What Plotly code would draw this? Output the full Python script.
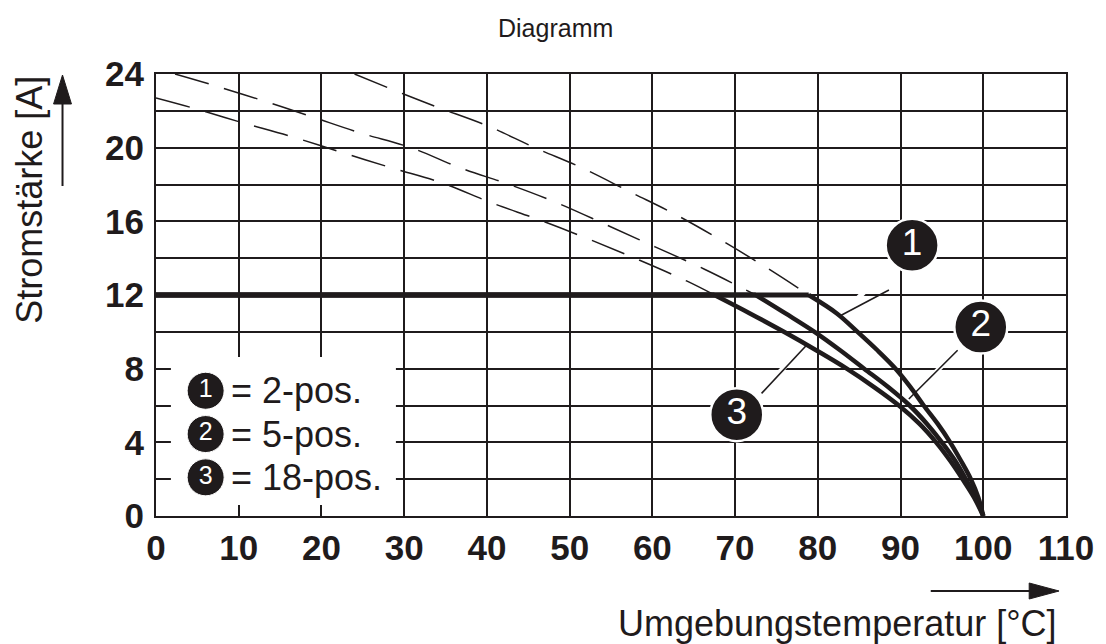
import plotly.graph_objects as go

# ---------------- data ----------------
temp_ticks = [0, 10, 20, 30, 40, 50, 60, 70, 80, 90, 100, 110]
current_ticks = [0, 4, 8, 12, 16, 20, 24]
rated_current = 12

series_names = ["1", "2", "3"]
legend_labels = ["= 2-pos.", "= 5-pos.", "= 18-pos."]

# dashed (extrapolated) parts of the derating curves
c1_dash_t = [24.0, 30.0, 34.0, 40.0, 45.8, 51.5, 57.3, 63.1, 68.6, 74.1, 78.9]
c1_dash_i = [24.0, 22.9, 22.2, 21.2, 20.0, 18.9, 17.6, 16.3, 14.9, 13.4, 12.0]
c2_dash_t = [2.3, 6.5, 12.6, 18.7, 24.7, 30.8, 36.8, 42.7, 48.5, 54.5, 60.4, 66.3, 72.5]
c2_dash_i = [24.0, 23.45, 22.6, 21.7, 20.8, 20.0, 18.9, 18.0, 17.0, 15.8, 14.6, 13.4, 12.0]
c3_dash_t = [0.0, 4.1, 10.1, 16.4, 22.4, 28.5, 34.5, 40.6, 46.5, 52.5, 58.4, 64.2, 67.5]
c3_dash_i = [22.7, 22.2, 21.4, 20.6, 19.75, 18.9, 18.1, 17.0, 16.05, 15.0, 13.9, 12.75, 12.0]

# solid (valid) derating parts
c1_t = [78.9, 82.3, 84.8, 87.2, 89.4, 91.2, 92.8, 94.5, 96.0, 97.3, 98.5, 99.4, 100.0]
c1_i = [12.0, 11.0, 10.0, 9.0, 8.0, 7.0, 6.0, 5.0, 4.0, 3.0, 2.0, 1.0, 0.0]
c2_t = [72.5, 76.1, 79.6, 82.7, 85.6, 88.5, 91.1, 93.2, 95.0, 96.6, 97.9, 99.1, 100.0]
c2_i = [12.0, 11.0, 10.0, 9.0, 8.0, 7.0, 6.0, 5.0, 4.0, 3.0, 2.0, 1.0, 0.0]
c3_t = [67.5, 71.8, 75.9, 79.8, 83.5, 86.8, 89.8, 92.3, 94.3, 96.0, 97.5, 98.9, 100.0]
c3_i = [12.0, 11.0, 10.0, 9.0, 8.0, 7.0, 6.0, 5.0, 4.0, 3.0, 2.0, 1.0, 0.0]

# callout bubbles and leader lines (data coordinates)
callout_t = [91.4, 99.7, 70.2]
callout_i = [14.7, 10.26, 5.5]
leader_start_t = [88.6, 96.9, 73.2]
leader_start_i = [12.27, 9.0, 6.66]
leader_end_t = [82.6, 91.0, 78.8]
leader_end_i = [10.85, 6.35, 9.35]

# legend bubbles
legend_t = [6.0, 6.0, 6.0]
legend_i = [6.8, 4.45, 2.1]
legend_text_t = 8.8

# ---------------- styling ----------------
INK = "#1f1b1c"
FONT = "Liberation Sans, Arial, Helvetica, sans-serif"
OFF = 8  # page offset of the figure inside the browser window
W, H = 1106 - OFF, 644 - OFF
# plot area in window pixels: x 156..1071, y 74..516
L, R, T, B = 156 - OFF, 1106 - 1071, 74 - OFF, 644 - 516
PW, PH = W - L - R, H - T - B


def px(xs, ys):
    """window pixel -> paper coordinates"""
    return (xs - 156) / PW, (516 - ys) / PH


fig = go.Figure()

# white halos of the leader lines
for k in range(3):
    fig.add_trace(go.Scatter(
        x=[callout_t[k], leader_end_t[k]], y=[callout_i[k], leader_end_i[k]],
        mode="lines", line=dict(color="white", width=5), hoverinfo="skip"))

# dashed curves
for tt, ii in [(c1_dash_t, c1_dash_i), (c2_dash_t, c2_dash_i), (c3_dash_t, c3_dash_i)]:
    fig.add_trace(go.Scatter(
        x=tt, y=ii, mode="lines",
        line=dict(color=INK, width=1.5, dash="35px,16px", shape="spline", smoothing=1.0)))

# solid curves (flat rated current part + derating part)
for tt, ii in [(c1_t, c1_i), (c2_t, c2_i), (c3_t, c3_i)]:
    fig.add_trace(go.Scatter(
        x=[0, tt[0]], y=[rated_current, rated_current], mode="lines",
        line=dict(color=INK, width=5)))
    fig.add_trace(go.Scatter(
        x=tt, y=ii, mode="lines",
        line=dict(color=INK, width=4.5, shape="spline", smoothing=1.0)))

# leader lines
for k in range(3):
    fig.add_trace(go.Scatter(
        x=[leader_start_t[k], leader_end_t[k]], y=[leader_start_i[k], leader_end_i[k]],
        mode="lines", line=dict(color=INK, width=1.6)))

# callout bubbles
fig.add_trace(go.Scatter(
    x=callout_t, y=callout_i, mode="markers+text", text=series_names,
    textposition="middle center",
    textfont=dict(family=FONT, size=37, color="white"),
    marker=dict(size=53, color=INK, line=dict(color="white", width=2.5))))

# legend bubbles
fig.add_trace(go.Scatter(
    x=legend_t, y=legend_i, mode="markers+text", text=series_names,
    textposition="middle center",
    textfont=dict(family=FONT, size=25, color="white"),
    marker=dict(size=37, color=INK, line=dict(color="white", width=1))))

for k in range(3):
    fig.add_annotation(x=legend_text_t, y=legend_i[k], xref="x", yref="y",
                       text=legend_labels[k], showarrow=False, xanchor="left",
                       yanchor="middle",
                       font=dict(family=FONT, size=36, color=INK))

# white legend box covering the grid
fig.add_shape(type="rect", xref="x", yref="y", x0=1.8, x1=29.0, y0=0.6, y1=8.63,
              fillcolor="white", line=dict(width=0), layer="between")

# title and axis titles
tx, ty = px(558, 28)
fig.add_annotation(x=tx, y=ty, xref="paper", yref="paper", text="Diagramm",
                   showarrow=False, xanchor="center", yanchor="middle",
                   font=dict(family=FONT, size=25, color=INK))
ax_, ay_ = px(28, 200)
fig.add_annotation(x=ax_, y=ay_, xref="paper", yref="paper", text="Stromstärke [A]",
                   showarrow=False, textangle=-90, xanchor="center", yanchor="middle",
                   font=dict(family=FONT, size=36, color=INK))
bx_, by_ = px(1064, 623)
fig.add_annotation(x=bx_, y=by_, xref="paper", yref="paper",
                   text="Umgebungstemperatur [°C]",
                   showarrow=False, xanchor="right", yanchor="middle",
                   font=dict(family=FONT, size=36, color=INK))

# arrows
x0, y0 = px(62, 186)
x1, y1 = px(62, 100)
fig.add_shape(type="line", xref="paper", yref="paper", x0=x0, y0=y0, x1=x1, y1=y1,
              line=dict(color=INK, width=2))
ta, tb = px(62, 75)
la, lb = px(53, 104)
ra, rb = px(71, 104)
fig.add_shape(type="path", xref="paper", yref="paper",
              path=f"M {la},{lb} L {ta},{tb} L {ra},{rb} Z",
              fillcolor=INK, line=dict(color=INK, width=1))

x0, y0 = px(935, 591)
x1, y1 = px(1040, 591)
fig.add_shape(type="line", xref="paper", yref="paper", x0=x0, y0=y0, x1=x1, y1=y1,
              line=dict(color=INK, width=2))
ta, tb = px(1064, 591)
ua, ub = px(1034, 583)
da, db = px(1034, 599)
fig.add_shape(type="path", xref="paper", yref="paper",
              path=f"M {ua},{ub} L {ta},{tb} L {da},{db} Z",
              fillcolor=INK, line=dict(color=INK, width=1))

grid = dict(showgrid=True, gridcolor=INK, gridwidth=1.8, zeroline=False,
            showline=True, linecolor=INK, linewidth=2, mirror=True, ticks="",
            tickfont=dict(family=FONT, size=35, color=INK, weight="bold"))

fig.update_xaxes(range=[0, 110], tickvals=temp_ticks,
                 ticktext=[str(v) for v in temp_ticks], ticklabelstandoff=0, **grid)
fig.update_yaxes(range=[0, 24], tickvals=current_ticks,
                 ticktext=[str(v) for v in current_ticks], ticklabelstandoff=3,
                 minor=dict(dtick=2, showgrid=True, gridcolor=INK, gridwidth=1.8),
                 **grid)

fig.update_layout(width=W, height=H, margin=dict(l=L, r=R, t=T, b=B),
                  showlegend=False, plot_bgcolor="white", paper_bgcolor="white")

fig.write_html("out.html")
